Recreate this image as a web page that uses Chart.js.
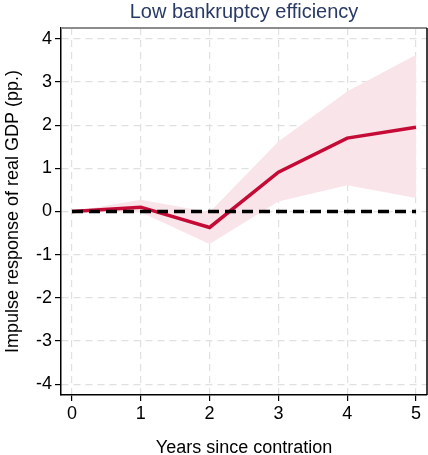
<!DOCTYPE html>
<html>
<head>
<meta charset="utf-8">
<script src="https://cdn.jsdelivr.net/npm/chart.js@4/dist/chart.umd.min.js"></script>
<style>
  html, body { margin: 0; padding: 0; background: #fff; }
  #wrap { width: 428px; height: 455px; }
</style>
</head>
<body>
<div id="wrap"><canvas id="irfChart"></canvas></div>
<script>
const years = [0, 1, 2, 3, 4, 5];
const irfMean = [0, 0.10, -0.37, 0.91, 1.70, 1.95];
const irfUpper = [0, 0.27, -0.02, 1.62, 2.78, 3.63];
const irfLower = [0, -0.02, -0.75, 0.23, 0.61, 0.31];
const zeroLine = [0, 0, 0, 0, 0, 0];
const yTicks = [-4, -3, -2, -1, 0, 1, 2, 3, 4];

const toXY = (vals) => years.map((x, i) => ({ x: x, y: vals[i] }));

const frame = {
    id: 'frame',
    afterDraw(chart) {
        const { ctx, chartArea: a } = chart;
        ctx.save();
        ctx.strokeStyle = '#8c8c8c';
        ctx.lineWidth = 2;
        ctx.beginPath();
        ctx.moveTo(a.left, a.top);
        ctx.lineTo(a.right, a.top);
        ctx.stroke();
        ctx.strokeStyle = '#000';
        ctx.lineWidth = 1.5;
        ctx.beginPath();
        ctx.moveTo(a.right, a.top);
        ctx.lineTo(a.right, a.bottom);
        ctx.stroke();
        ctx.restore();
    }
};

document.addEventListener('DOMContentLoaded', function() {
    const ctx = document.getElementById('irfChart').getContext('2d');
    new Chart(ctx, {
        type: 'line',
        data: {
            datasets: [{
                label: 'zero',
                data: toXY(zeroLine),
                borderColor: '#000',
                borderWidth: 3.5,
                borderDash: [11, 6],
                pointRadius: 0,
                fill: false,
            }, {
                label: 'IRF',
                data: toXY(irfMean),
                borderColor: '#c50a36',
                borderWidth: 3.5,
                pointRadius: 0,
                fill: false,
            }, {
                label: 'lower',
                data: toXY(irfLower),
                borderWidth: 0,
                pointRadius: 0,
                fill: false,
            }, {
                label: 'upper',
                data: toXY(irfUpper),
                borderWidth: 0,
                pointRadius: 0,
                backgroundColor: '#f9e4e9',
                fill: 2,
            }],
        },
        options: {
            responsive: true,
            maintainAspectRatio: false,
            animation: false,
            layout: { padding: { left: 0, right: 1, top: 0, bottom: 0 } },
            scales: {
                x: {
                    type: 'linear',
                    min: -0.16,
                    max: 5.16,
                    afterFit: function(s) { s.height = 60; },
                    grid: {
                        color: '#e0e0e0',
                        lineWidth: 1.2,
                        tickColor: '#000',
                        tickLength: 6,
                        tickWidth: 1.2,
                    },
                    border: { color: '#000', width: 1.5, dash: [7, 5] },
                    ticks: {
                        stepSize: 1,
                        includeBounds: false,
                        color: '#000',
                        padding: 2,
                        font: { family: 'Liberation Sans', size: 18 },
                    },
                    title: {
                        display: true,
                        text: 'Years since contration',
                        color: '#000',
                        font: { family: 'Liberation Sans', size: 18, lineHeight: 0.8 },
                        padding: { top: 0, bottom: 0 },
                    },
                },
                y: {
                    min: -4.25,
                    max: 4.25,
                    afterFit: function(s) { s.width = 61; },
                    afterBuildTicks: function(s) { s.ticks = yTicks.map(v => ({ value: v })); },
                    grid: {
                        color: '#e0e0e0',
                        lineWidth: 1.2,
                        tickColor: '#000',
                        tickLength: 6,
                        tickWidth: 1.2,
                    },
                    border: { color: '#000', width: 1.5, dash: [7, 5] },
                    ticks: {
                        color: '#000',
                        padding: 3,
                        font: { family: 'Liberation Sans', size: 18 },
                    },
                    title: {
                        display: true,
                        text: 'Impulse response of real GDP (pp.)',
                        color: '#000',
                        font: { family: 'Liberation Sans', size: 18 },
                        padding: { top: 2, bottom: 0 },
                    },
                },
            },
            plugins: {
                legend: { display: false },
                tooltip: { enabled: false },
                title: {
                    display: true,
                    text: 'Low bankruptcy efficiency',
                    fullSize: false,
                    color: '#2a3a66',
                    font: { family: 'Liberation Sans', size: 20, weight: 'normal', lineHeight: 1.15 },
                    padding: { top: 1, bottom: 4 },
                },
            },
        },
        plugins: [frame],
    });
});
</script>
</body>
</html>
